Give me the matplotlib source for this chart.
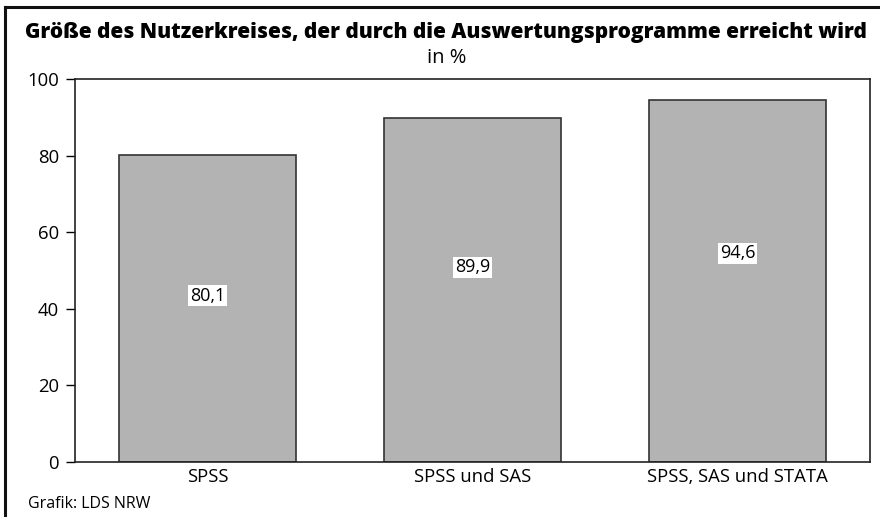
import matplotlib
matplotlib.use("Agg")
import matplotlib.pyplot as plt
from matplotlib.lines import Line2D

categories = ["SPSS", "SPSS und SAS", "SPSS, SAS und STATA"]
values = [80.1, 89.9, 94.6]
value_labels = ["80,1", "89,9", "94,6"]
yticks = [0, 20, 40, 60, 80, 100]

plt.rcParams['font.family'] = ['Open Sans', 'DejaVu Sans']

fig = plt.figure(figsize=(8.8, 5.17), dpi=100)
W, H = 880, 517
ax = fig.add_axes([75 / W, 1 - 462 / H, 795 / W, (462 - 79) / H])

x = range(len(categories))
ax.bar(x, values, width=0.667, color="#b3b3b3", edgecolor="#333333", linewidth=1.2, zorder=2)
ax.set_xlim(-0.5, 2.5)
ax.set_ylim(0, 100)
ax.set_yticks(yticks)
ax.set_yticklabels([str(t) for t in yticks], fontsize=13.3)
ax.set_xticks(list(x))
ax.set_xticklabels(categories, fontsize=13.3)
ax.tick_params(axis='x', length=0, pad=4)
ax.tick_params(axis='y', length=6.5, width=1, pad=5)
for s in ax.spines.values():
    s.set_linewidth(1.2)
    s.set_color("#222222")

# label placement inside bar (style rule)
for i, (v, lab) in enumerate(zip(values, value_labels)):
    ax.text(i, 0.766 * v - 18.0, lab, ha='center', va='center', fontsize=13,
            bbox=dict(facecolor='white', edgecolor='none', pad=1), zorder=3)

fig.text(446 / W, 1 - 38 / H, "Größe des Nutzerkreises, der durch die Auswertungsprogramme erreicht wird",
         ha='center', va='baseline', fontsize=15, fontweight='heavy')
fig.text(447 / W, 1 - 63 / H, "in %", ha='center', va='baseline', fontsize=14.5)
fig.text(28 / W, 1 - 508 / H, "Grafik: LDS NRW", ha='left', va='baseline', fontsize=11.5)

# outer frame (top and left visible)
fig.add_artist(Line2D([5 / W, 1.0], [1 - 7 / H, 1 - 7 / H], transform=fig.transFigure, color='#111111', linewidth=2.2))
fig.add_artist(Line2D([5 / W, 5 / W], [0, 1 - 7 / H], transform=fig.transFigure, color='#111111', linewidth=2.2))

fig.savefig("out.png", dpi=100)
